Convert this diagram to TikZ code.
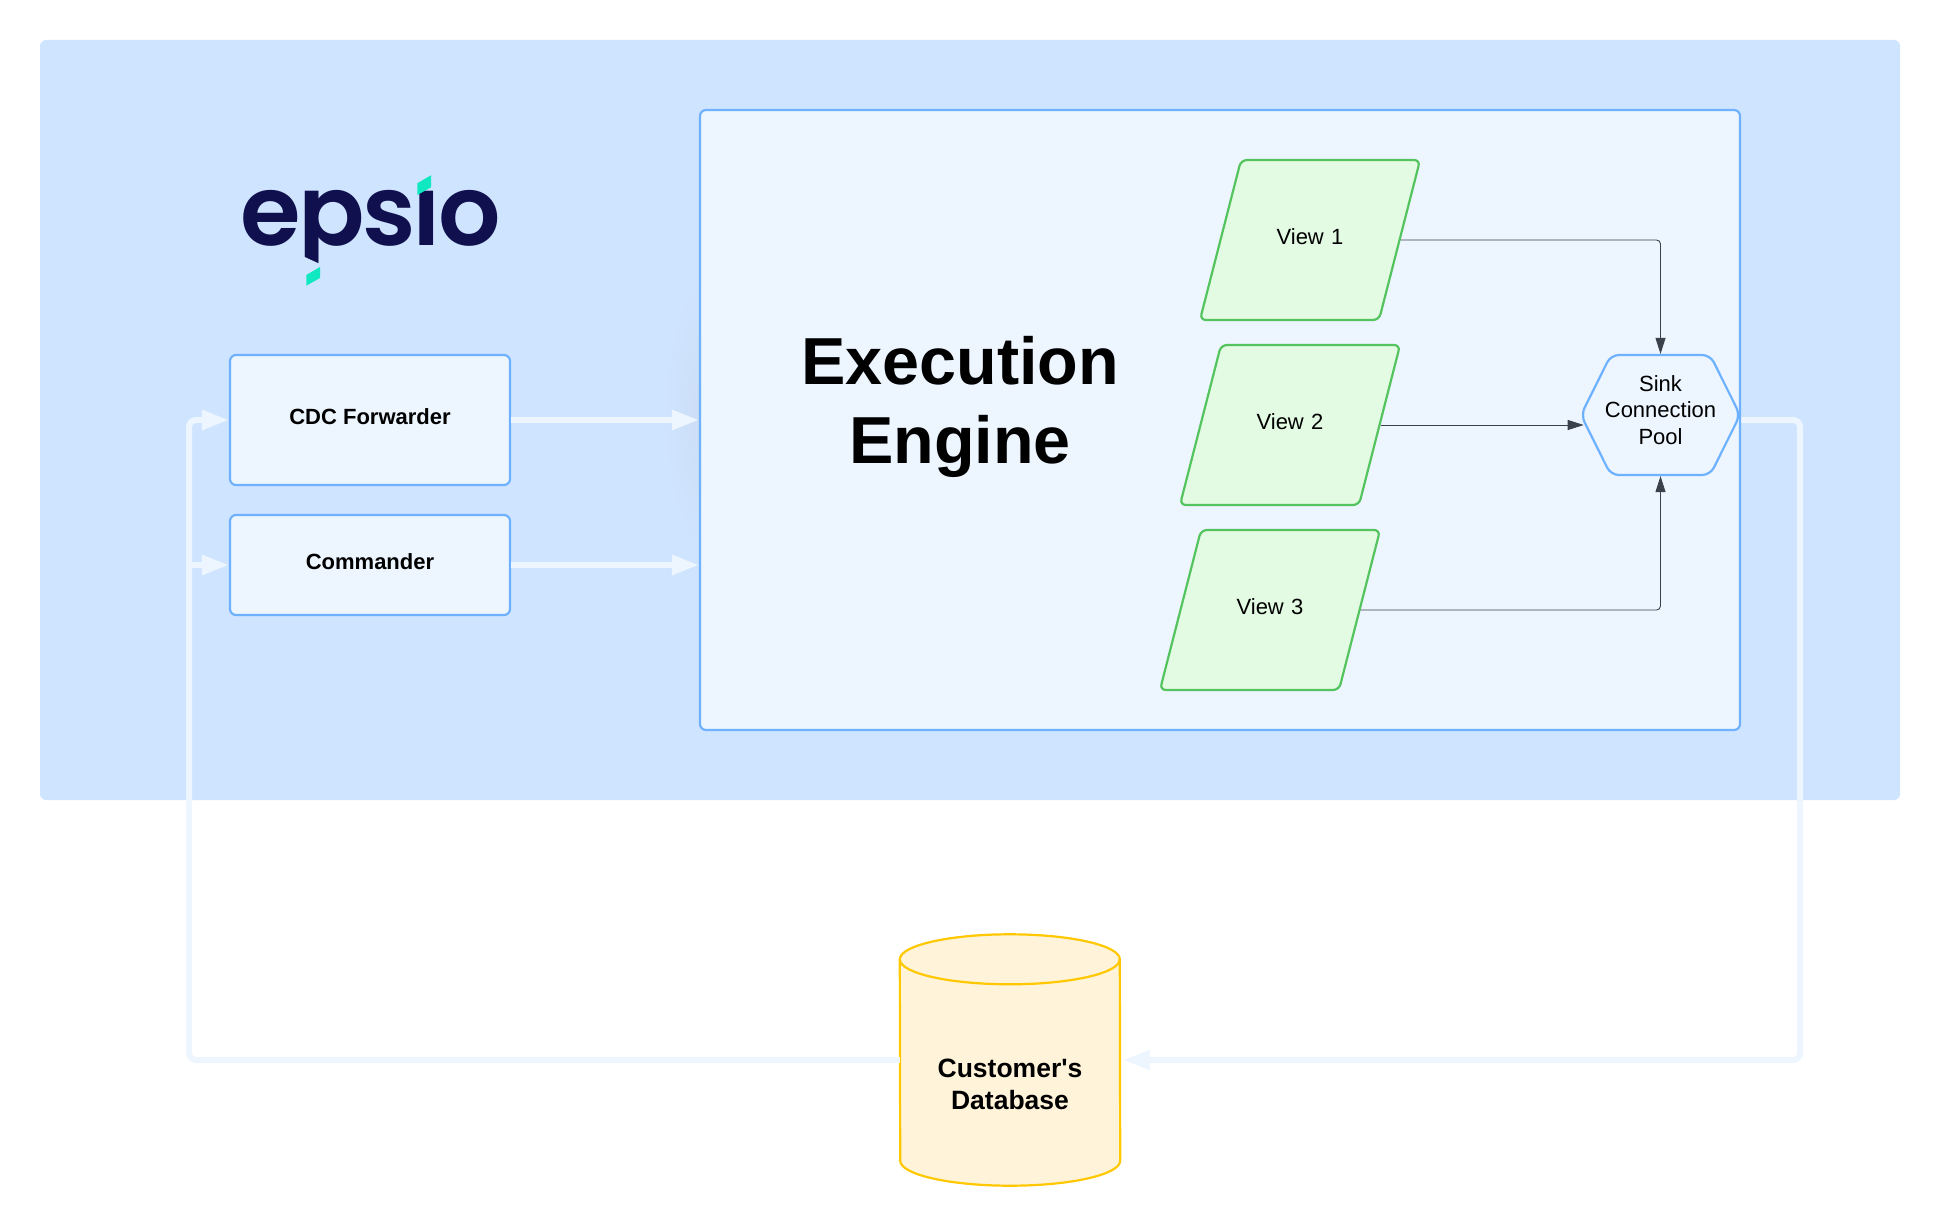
\documentclass[tikz,border=0pt]{standalone}
\usepackage{fontspec}
\setmainfont{Liberation Sans}
\newfontfamily\logofont{Poppins}[UprightFont=* SemiBold]
\usetikzlibrary{arrows.meta,calc,positioning,shapes.geometric,shapes.symbols}
\definecolor{panelblue}{HTML}{CFE4FF}
\definecolor{glowblue}{HTML}{CCDEF6}
\definecolor{paleblue}{HTML}{EDF5FF}
\definecolor{edgeblue}{HTML}{6DB1FF}
\definecolor{viewgreen}{HTML}{E3FAE3}
\definecolor{viewedge}{HTML}{54C45E}
\definecolor{dbfill}{HTML}{FFF3D9}
\definecolor{dbedge}{HTML}{FFC800}
\definecolor{wiregray}{HTML}{3A414A}
\definecolor{logonavy}{HTML}{10104F}
\definecolor{logoteal}{HTML}{0FE8C0}
\tikzset{
     box node/.style={draw=edgeblue, fill=paleblue, line width=2.2pt, rounded corners=6pt},
     service/.style={box node, minimum width=280pt, text depth=7pt, font=\fontsize{22}{26}\bfseries},
     viewbox/.style={trapezium, trapezium left angle=75.6, trapezium right angle=104.4,
        draw=viewedge, fill=viewgreen, line width=2.2pt, rounded corners=6pt,
        inner sep=0pt, text width=138pt, align=center, text height=84pt, text depth=76pt,
        font=\fontsize{22}{26}\selectfont},
     sinkbox/.style={signal, signal from=nowhere, signal to=east and west, signal pointer angle=127,
        box node, rounded corners=8pt, minimum height=120pt, inner ysep=0pt, inner xsep=-6pt,
        align=center, font=\fontsize{22}{26.7}\selectfont},
     dbframe/.style={minimum width=220pt, minimum height=251pt, inner sep=0pt},
     dbshape/.style={draw=dbedge, fill=dbfill, line width=2.2pt},
     dblabel/.style={align=center, font=\fontsize{26.5}{32}\bfseries},
     wire/.style={draw=wiregray, line width=0.9pt, -{Triangle[length=16pt,width=10pt]}},
     elbow/.style={rounded corners=4pt, to path={-| (\tikztotarget)}},
     feed/.style={draw=paleblue, line width=6pt, rounded corners=7pt, -{Triangle[length=27pt,width=19pt]}},
}
\begin{document}
\begin{tikzpicture}[x=1pt,y=-1pt,node distance=185pt,on grid]
    \useasboundingbox (0,0) rectangle (1940,1225);
    \fill[panelblue, rounded corners=6pt] (40,40) rectangle (1900,800);

    % logo
    \node [anchor=base] (logo) at (370.5,245) {\fontsize{98}{98}\logofont\color{logonavy}e\kern-2pt p\kern-3pt s\kern-3ptı\kern-3pt o};
    \fill[panelblue] (304,256.7) -- (320,264) -- (326,264) -- (326,280) -- (304,280) -- cycle;
    \fill[logoteal] (417.3,183.3) -- (431,175.3) -- (431,187.3) -- (417.3,195) -- cycle;
    \fill[logoteal] (306.3,275) -- (320,267) -- (320,278) -- (306.3,285.7) -- cycle;

    % services
    \node [service, minimum height=130pt] (cdc) at (370,420) {CDC Forwarder};
    \node [service, minimum height=100pt] (cmd) at (370,565) {Commander};

    % engine, with its soft glow on the panel
    \shade[inner color=glowblue, outer color=panelblue] (700,413) ellipse [x radius=36pt, y radius=132pt];
    \node [box node, minimum width=1040pt, minimum height=620pt] (engine) at (1220,420) {};
    \node [align=center, font=\fontsize{66.5}{79}\bfseries] (title) at (960,406.5) {Execution\\Engine};

    \node [viewbox] (v1) at (1310,240) {View 1};
    \node [viewbox] (v2) [below=185pt of v1, xshift=-20pt] {View 2};
    \node [viewbox] (v3) [below=185pt of v2, xshift=-20pt] {View 3};
    \node [sinkbox, text depth=10pt] (sink) at (1660.5,415) {Sink\\Connection\\Pool};

    \path
    (v1.east) edge [wire, elbow] (sink.north)
    (v2.east) edge [wire] ([xshift=4pt]sink.west |- v2.east)
    (v3.east) edge [wire, elbow] (sink.south);

    % database
    \node [dbframe] (db) at (1010,1060) {};
    \draw[dbshape] ([yshift=-25pt]db.north west) arc[start angle=180, end angle=0, x radius=110pt, y radius=25pt]
        -- ([yshift=25pt]db.south east) arc[start angle=0, end angle=-180, x radius=110pt, y radius=25pt] -- cycle;
    \draw[dbshape, fill=none] ([yshift=-25pt]db.north west) arc[start angle=180, end angle=360, x radius=110pt, y radius=25pt];
    \node [dblabel] (dbtext) at (1010,1084) {Customer\textquotesingle s\\Database};

    \coordinate (railleft) at (189,1060);
    \coordinate (railright) at (1800,1060);
    \draw[feed] (cdc.east) -- (engine.west |- cdc.east);
    \draw[feed] (cmd.east) -- (engine.west |- cmd.east);
    \draw[feed] (db.west) -- (railleft) |- (cdc.west);
    \draw[feed] (railleft |- cmd.west) -- (cmd.west);
    \draw[feed] ([yshift=-5pt]sink.east) -| (railright) -- ([xshift=3pt]db.east);
\end{tikzpicture}
\end{document}
